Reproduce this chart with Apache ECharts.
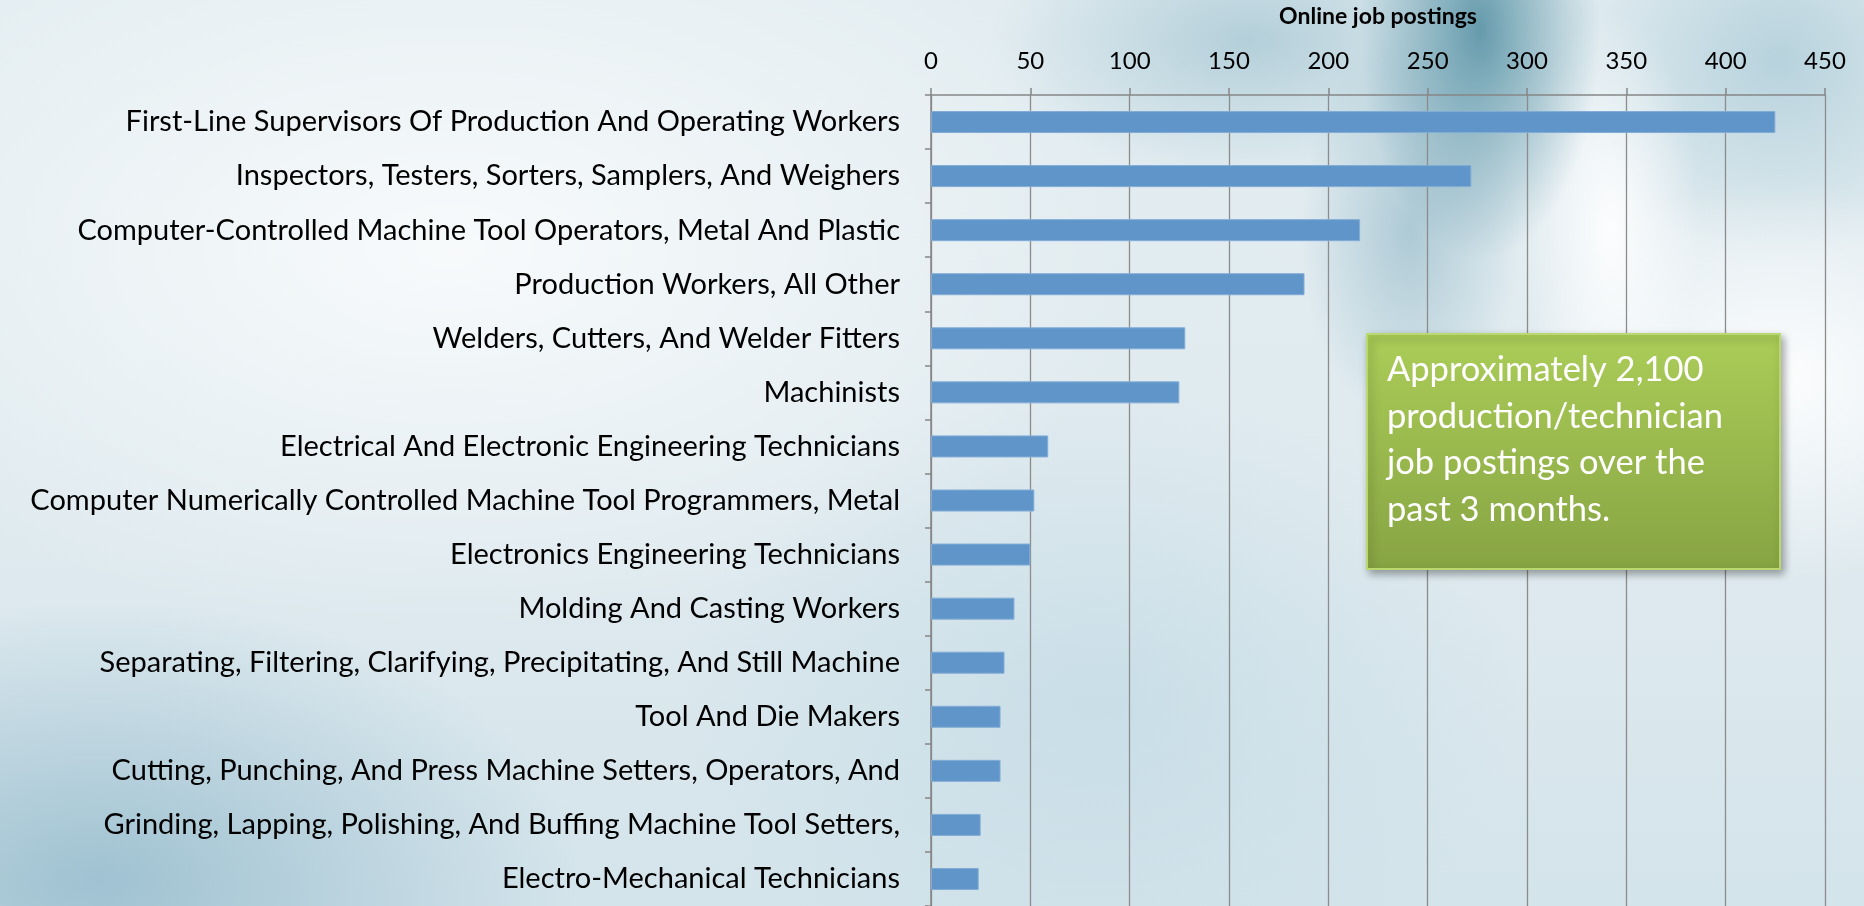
<!DOCTYPE html>
<html>
<head>
<meta charset="utf-8">
<script src="https://cdn.jsdelivr.net/npm/echarts@6/dist/echarts.min.js"></script>
<style>
html,body{margin:0;padding:0;width:1864px;height:906px;overflow:hidden;}
body{
  background:
    radial-gradient(ellipse 120px 230px at 1480px 30px, rgba(60,128,150,0.75), rgba(60,128,150,0) 100%),
    radial-gradient(ellipse 110px 200px at 1410px 230px, rgba(110,160,180,0.45), rgba(110,160,180,0) 100%),
    radial-gradient(ellipse 260px 140px at 1250px 40px, rgba(140,182,198,0.55), rgba(140,182,198,0) 100%),
    radial-gradient(ellipse 90px 220px at 1610px 230px, rgba(255,255,255,0.9), rgba(255,255,255,0) 100%),
    radial-gradient(ellipse 260px 200px at 1780px 380px, rgba(255,255,255,0.9), rgba(255,255,255,0) 100%),
    radial-gradient(ellipse 220px 200px at 1780px 60px, rgba(130,178,196,0.45), rgba(130,178,196,0) 100%),
    radial-gradient(ellipse 480px 280px at 100px 880px, rgba(115,165,188,0.55), rgba(115,165,188,0) 100%),
    radial-gradient(ellipse 700px 380px at 450px 250px, rgba(255,255,255,0.75), rgba(255,255,255,0) 100%),
    radial-gradient(ellipse 420px 320px at 1100px 700px, rgba(175,208,222,0.4), rgba(175,208,222,0) 100%),
    linear-gradient(180deg, #e3edf1 0%, #dfeaef 60%, #d4e4eb 100%);
}
#chart{width:1864px;height:906px;}
</style>
</head>
<body>
<div id="chart"></div>
<script>
var categories = [
  "First-Line Supervisors Of Production And Operating Workers",
  "Inspectors, Testers, Sorters, Samplers, And Weighers",
  "Computer-Controlled Machine Tool Operators, Metal And Plastic",
  "Production Workers, All Other",
  "Welders, Cutters, And Welder Fitters",
  "Machinists",
  "Electrical And Electronic Engineering Technicians",
  "Computer Numerically Controlled Machine Tool Programmers, Metal",
  "Electronics Engineering Technicians",
  "Molding And Casting Workers",
  "Separating, Filtering, Clarifying, Precipitating, And Still Machine",
  "Tool And Die Makers",
  "Cutting, Punching, And Press Machine Setters, Operators, And",
  "Grinding, Lapping, Polishing, And Buffing Machine Tool Setters,",
  "Electro-Mechanical Technicians"
];
var postings = [425, 272, 216, 188, 128, 125, 59, 52, 50, 42, 37, 35, 35, 25, 24];
var axisTitle = "Online job postings";
var noteLines = ["Approximately 2,100", "production/technician", "job postings over the", "past 3 months."];

var chart = echarts.init(document.getElementById('chart'), null, {renderer: 'canvas'});
var FONT = 'Lato, "Open Sans", sans-serif';
chart.setOption({
  backgroundColor: 'transparent',
  animation: false,
  grid: {left: 931, right: 39, top: 91.5, bottom: 0, containLabel: false},
  xAxis: {
    type: 'value', position: 'top', min: 0, max: 450, interval: 50,
    name: axisTitle, nameLocation: 'middle', nameGap: 67,
    nameTextStyle: {fontFamily: FONT, fontWeight: 'bold', fontSize: 23, color: '#000'},
    axisLine: {show: true, lineStyle: {color: '#868686', width: 1.5}},
    axisTick: {show: true, inside: false, length: 7, lineStyle: {color: '#868686', width: 1.5}},
    axisLabel: {fontFamily: FONT, fontSize: 24, color: '#000', margin: 22},
    splitLine: {show: true, lineStyle: {color: '#8c8c8c', width: 1.3}}
  },
  yAxis: {
    type: 'category', inverse: true, data: categories,
    axisLine: {show: true, lineStyle: {color: '#868686', width: 1.5}},
    axisTick: {show: true, length: 6, alignWithLabel: false, lineStyle: {color: '#868686', width: 1.5}},
    axisLabel: {fontFamily: FONT, fontSize: 29, color: '#000', margin: 31}
  },
  series: [{
    type: 'bar', data: postings, barWidth: 22,
    itemStyle: {color: '#5f95c8', borderColor: '#82acd6', borderWidth: 1}
  }],
  graphic: [{
    type: 'rect', z: 100,
    shape: {x: 1367, y: 334, width: 413, height: 235},
    style: {
      fill: new echarts.graphic.LinearGradient(0, 0, 0, 1, [
        {offset: 0, color: '#abcd58'}, {offset: 1, color: '#87a443'}
      ]),
      stroke: '#b9d870', lineWidth: 2,
      shadowBlur: 8, shadowOffsetX: 3, shadowOffsetY: 4, shadowColor: 'rgba(0,0,0,0.35)'
    }
  }, {
    type: 'text', z: 101, x: 1387, y: 347,
    style: {
      text: noteLines.join('\n'), fill: '#ffffff', fontFamily: FONT, fontSize: 34.5,
      lineHeight: 46.5, textVerticalAlign: 'top'
    }
  }]
});
</script>
</body>
</html>
